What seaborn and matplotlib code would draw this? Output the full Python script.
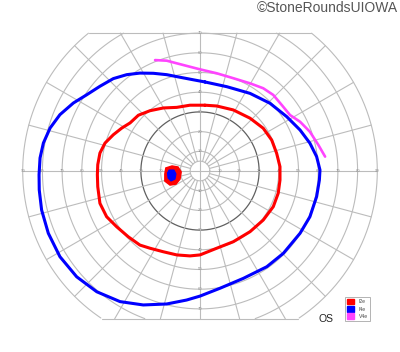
import numpy as np
import pandas as pd
import matplotlib
matplotlib.use("Agg")
import matplotlib.pyplot as plt
import seaborn as sns
from matplotlib.patches import Patch

sns.set_style("white")
plt.rcParams['font.family'] = ['Liberation Sans', 'DejaVu Sans']

# ---- data: isopters in visual-field degrees (x = horizontal, y = vertical) ----
isopter_names = ["I2e", "I4e", "V4e"]
isopter_colors = ["#ff0000", "#0000ff", "#ff44ff"]

i2e_x = [2.5, -5.1, -11.8, -18.6, -25.4, -31.3, -35.5, -39.7, -44.0, -48.2, -50.8, -51.9, -52.1,
         -51.9, -50.8, -47.4, -42.3, -36.4, -30.5, -25.4, -18.6, -11.8, -5.1, 0.0, 8.5, 16.9,
         25.4, 32.1, 37.2, 39.7, 40.6, 40.6, 38.9, 36.4, 32.1, 25.4, 16.9, 8.5, 2.5]
i2e_y = [33.4, 33.4, 32.3, 32.0, 30.6, 28.3, 24.4, 21.8, 18.4, 14.2, 9.1, 3.2, -1.9,
         -8.0, -16.4, -23.2, -28.3, -33.4, -37.6, -39.2, -41.0, -42.6, -43.1, -42.6, -39.2, -35.9,
         -30.8, -24.9, -18.1, -11.3, -4.6, 2.2, 9.0, 15.7, 21.7, 26.8, 31.0, 33.0, 33.4]

i4e_x = [2.5, -3.4, -10.2, -16.9, -23.7, -30.5, -37.2, -44.0, -50.8, -57.5, -64.3, -71.1, -76.1,
         -79.5, -81.2, -81.7, -81.6, -80.4, -77.0, -71.1, -62.6, -52.4, -40.6, -28.8, -16.9, -6.8,
         0.0, 10.2, 22.0, 33.9, 42.3, 50.8, 55.8, 59.2, 60.6, 60.9, 59.2, 55.8, 50.8, 44.0, 35.5,
         25.4, 13.6, 2.5]
i4e_y = [45.2, 46.3, 47.6, 48.9, 49.6, 49.7, 48.9, 46.9, 43.0, 38.7, 34.5, 28.6, 21.8,
         14.2, 6.6, -1.9, -9.6, -19.8, -31.6, -43.5, -53.7, -61.3, -66.3, -68.0, -67.5, -65.5,
         -63.5, -59.5, -54.5, -48.6, -41.8, -31.6, -23.2, -13.0, -4.6, 0.5, 7.3, 14.1, 20.8, 27.6, 34.4,
         39.4, 42.8, 45.2]

v4e_x = [-22.8, -16.9, -8.5, 0.0, 8.5, 16.9, 25.4, 32.1, 37.2, 41.5, 45.7, 50.8, 55.8, 60.1, 63.5]
v4e_y = [56.3, 56.0, 53.8, 51.6, 49.6, 47.1, 44.5, 42.0, 38.6, 33.5, 28.4, 25.0, 19.9, 13.2, 7.3]

# blind spot (scotoma) outlines
spot_i2e_x = [-17.3, -14.2, -11.2, -9.6, -10.2, -12.2, -15.2, -17.8, -17.8, -17.3]
spot_i2e_y = [1.5, 2.5, 2.0, -0.5, -4.1, -6.6, -7.1, -5.1, -1.5, 1.5]
spot_i4e_x = [-15.7, -13.2, -12.2, -12.7, -14.7, -16.2, -16.5, -15.7]
spot_i4e_y = [0.5, 0.5, -1.5, -4.1, -5.1, -3.6, -1.0, 0.5]

ring_values = [5, 10, 20, 30, 40, 50, 60, 70, 80, 90]
h_labels = [10, 20, 30, 40, 50, 60, 70, 80, 90]
v_labels = [10, 20, 30, 40, 50, 60, 70]
meridians = list(range(0, 360, 15))
top_limit, bottom_limit, outer = 70, -75, 90

# ---- figure ----
S = 1.97  # px per degree
cx, cy = 200, 171
fig = plt.figure(figsize=(4.0, 3.52), dpi=100)
ax = fig.add_axes([0, 0, 1, 1])
ax.axis("off")

grid_c = "#bcbcbc"
t = np.linspace(0, 2 * np.pi, 721)
for r in ring_values:
    x = r * np.cos(t)
    y = r * np.sin(t)
    m = (y > top_limit + 1e-6) | (y < bottom_limit - 1e-6)
    x = np.where(m, np.nan, x)
    y = np.where(m, np.nan, y)
    if r == 30:
        ax.plot(x, y, color="#606060", lw=0.9, zorder=1)
    else:
        ax.plot(x, y, color=grid_c, lw=0.8, zorder=1)

for a in meridians:
    th = np.deg2rad(a)
    s = np.sin(th)
    rmax = outer
    if s > 1e-9:
        rmax = min(rmax, top_limit / s)
    elif s < -1e-9:
        rmax = min(rmax, bottom_limit / s)
    r0 = 0 if a % 90 == 0 else 5
    ax.plot([r0 * np.cos(th), rmax * np.cos(th)], [r0 * np.sin(th), rmax * np.sin(th)],
            color=grid_c, lw=0.8, zorder=1)

xt = np.sqrt(outer ** 2 - top_limit ** 2)
xb = np.sqrt(outer ** 2 - bottom_limit ** 2)
ax.plot([-xt, xt], [top_limit, top_limit], color=grid_c, lw=0.8, zorder=1)
ax.plot([-xb, xb], [bottom_limit, bottom_limit], color=grid_c, lw=0.8, zorder=1)

for d in h_labels:
    for sgn in (-1, 1):
        ax.text(sgn * d, 0, str(d), fontsize=3, color="#909090", ha="center", va="center", zorder=2)
for d in v_labels:
    for sgn in (-1, 1):
        ax.text(0, sgn * d, str(d), fontsize=3, color="#909090", ha="center", va="center", zorder=2)

# ---- isopters via seaborn ----
kw = dict(sort=False, estimator=None, ax=ax, zorder=4, solid_joinstyle="round", solid_capstyle="round")
sns.lineplot(x=i2e_x, y=i2e_y, color=isopter_colors[0], lw=2.2, **kw)
sns.lineplot(x=i4e_x, y=i4e_y, color=isopter_colors[1], lw=2.2, **kw)
sns.lineplot(x=v4e_x, y=v4e_y, color=isopter_colors[2], lw=1.9, **kw)

ax.fill(spot_i2e_x, spot_i2e_y, color=isopter_colors[0], lw=1.2, zorder=5)
ax.fill(spot_i4e_x, spot_i4e_y, color=isopter_colors[1], lw=0.8, zorder=6)

handles = [Patch(facecolor=c, edgecolor=c, label=n) for n, c in zip(isopter_names, isopter_colors)]
leg = ax.legend(handles=handles, loc="upper left", bbox_to_anchor=(345 / 400, 1 - 297 / 352),
                bbox_transform=fig.transFigure, borderaxespad=0, fontsize=3.6, frameon=True,
                fancybox=False, handlelength=1.3, handleheight=1.3, handletextpad=1.0,
                labelspacing=0.35, borderpad=0.4)
leg.get_frame().set_edgecolor("#a0a0a0")
leg.get_frame().set_linewidth(0.7)
for txt in leg.get_texts():
    txt.set_color("#444444")

fig.text(326 / 400, 1 - 319 / 352, "OS", fontsize=7.5, color="#222222", ha="center", va="center")
fig.text(398 / 400, 1 - 8 / 352, "©StoneRoundsUIOWA", fontsize=10, color="#555555", ha="right", va="center")

ax.set_xlim(-cx / S, (400 - cx) / S)
ax.set_ylim(-(352 - cy) / S, cy / S)

fig.savefig("out.png", dpi=100, facecolor="white")
